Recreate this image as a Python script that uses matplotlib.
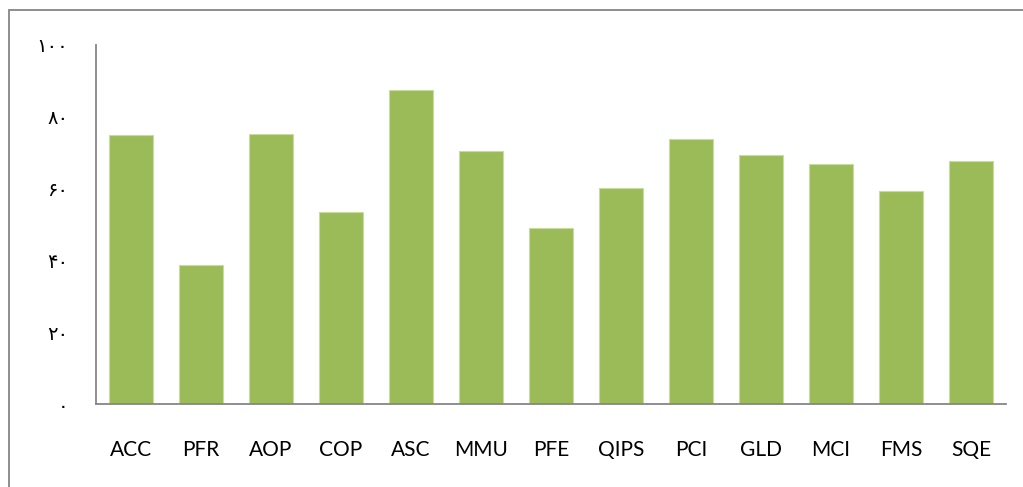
import matplotlib.pyplot as plt
import matplotlib.transforms as mtransforms
from matplotlib.patches import Rectangle

categories = ["ACC", "PFR", "AOP", "COP", "ASC", "MMU", "PFE",
              "QIPS", "PCI", "GLD", "MCI", "FMS", "SQE"]
values = [74.9, 38.7, 75.2, 53.4, 87.5, 70.5, 48.9,
          60.2, 73.8, 69.3, 66.9, 59.3, 67.6]
y_ticks = [0, 20, 40, 60, 80, 100]
y_tick_labels = ["۰", "۲۰", "۴۰", "۶۰", "۸۰", "۱۰۰"]

plt.rcParams['font.family'] = ['Lato', 'DejaVu Sans']

fig = plt.figure(figsize=(10.23, 4.87), dpi=100, facecolor="white")
ax = fig.add_axes([0.0938, 0.1704, 0.8896, 0.7372])

ax.bar(range(len(categories)), values, width=0.64, color="#9BBB59",
       edgecolor="#C9DCA0", linewidth=0.8)

ax.set_xlim(-0.5, len(categories) - 0.5)
ax.set_ylim(0, 100)
ax.set_xticks(range(len(categories)))
ax.set_xticklabels(categories, fontsize=15, color="black")
ax.set_yticks(y_ticks)
ax.set_yticklabels(y_tick_labels, fontsize=14, color="black",
                   family=['DejaVu Sans'])
# nudge y labels a little upward, like the original
shift = mtransforms.ScaledTranslation(0, 3 / 72, fig.dpi_scale_trans)
for lbl in ax.get_yticklabels():
    lbl.set_transform(lbl.get_transform() + shift)
ax.tick_params(axis="x", length=0, pad=26)
ax.tick_params(axis="y", length=0, pad=20)

for side in ["top", "right"]:
    ax.spines[side].set_visible(False)
for side in ["left", "bottom"]:
    ax.spines[side].set_color("#868686")
    ax.spines[side].set_linewidth(1.3)

# outer chart frame
fig.patches.append(Rectangle((9 / 1023, -0.1), 1.2, 1.1 - 10 / 487,
                             transform=fig.transFigure, fill=False,
                             edgecolor="#868686", linewidth=1.3))

fig.savefig("out.png", dpi=100, facecolor="white")
